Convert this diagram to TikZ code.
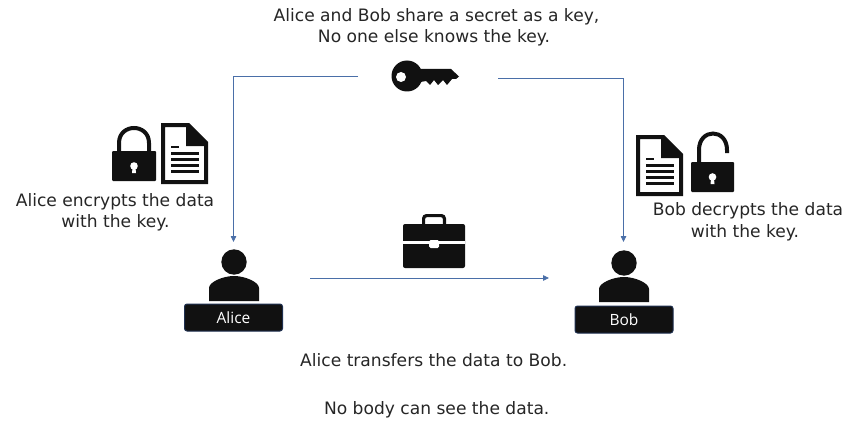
\documentclass[tikz,border=0pt]{standalone}
\usepackage{fontspec}
\setmainfont{DejaVu Sans}
\newfontfamily\labelfont{Open Sans}
\usetikzlibrary{arrows.meta}
\definecolor{ink}{HTML}{111111}
\definecolor{txt}{HTML}{262626}
\definecolor{wire}{HTML}{4A6FA8}
\definecolor{edge}{HTML}{1F3050}
\tikzset{
  x=1pt,y=-1pt,
  caption/.style={text=txt,font=\fontsize{17.1}{20}\selectfont,inner sep=0pt,anchor=center,text height=12.5pt,text depth=3.5pt},
  namebox/.style={fill=ink,draw=edge,line width=1pt,rounded corners=2.5pt,text=white,font=\labelfont\fontsize{15.5}{17}\selectfont,minimum width=98pt,minimum height=27pt,inner sep=0pt},
  wireline/.style={draw=wire,line width=0.8pt,-{Triangle[length=6pt,width=5.5pt]}},
  doc/.pic={
    \fill[ink,even odd rule] (161,123)--(189,123)--(208,142)--(208,184)--(161,184)--cycle
      (165,127)--(165,180)--(204,180)--(204,146)--(186,146)--(186,127)--cycle;
    \fill[ink] (190,128)--(203,141)--(190,141)--cycle;
    \fill[ink] (171,145.7) rectangle (179,148.3);
    \foreach \yy in {152,158,164,170}{\fill[ink] (171,\yy) rectangle (199,\yy+2.7);}
  },
  person/.pic={
    \fill[ink] (0,0) circle[radius=12.7];
    \fill[ink] (-25,39)--(-25,26) .. controls (-25,20) and (-11,14) .. (0,14) .. controls (11,14) and (25,20) .. (25,26)--(25,39)--cycle;
  },
}
\begin{document}
\begin{tikzpicture}
\useasboundingbox (0,0) rectangle (853,425);
\fill[white] (0,0) rectangle (853,425);

% captions
\node[caption] (t1) at (436.5,17) {Alice and Bob share a secret as a key,};
\node[caption] (t2) at (434,38) {No one else knows the key.};
\node[caption] (t3) at (115,202) {Alice encrypts the data};
\node[caption] (t4) at (115.5,223) {with the key.};
\node[caption] (t5) at (748,211) {Bob decrypts the data};
\node[caption] (t6) at (745,233) {with the key.};
\node[caption] (t7) at (433.7,362) {Alice transfers the data to Bob.};
\node[caption] (t8) at (436.7,410) {No body can see the data.};

% key
\fill[ink] (407,76) circle[radius=15.5];
\fill[ink] (415,69)--(451,69)--(459,76.5)--(456,79)--(452,79)--(447,85)--(443,80)--(438,85)--(434,80)--(430,85)--(426,81)--(415,83)--cycle;
\fill[white] (401,77) circle[radius=5];

% left lock
\draw[ink,line width=4pt] (119,153)--(119,143) .. controls (119,123) and (149,123) .. (149,143)--(149,153);
\fill[ink,rounded corners=1pt] (112,151) rectangle (156,181);
\fill[white] (134,166) circle[radius=3.8];
\fill[white] (132.6,167)--(135.4,167)--(136,173)--(132,173)--cycle;
\pic at (0,0) {doc};

% right doc and open lock
\pic at (475,12) {doc};
\draw[ink,line width=4pt] (699,164)--(699,150) .. controls (699,128) and (727,128) .. (727,150)--(727,153);
\fill[ink,rounded corners=1pt] (691,162) rectangle (734,192);
\fill[white] (712.5,177) circle[radius=3.8];
\fill[white] (711.1,178)--(713.9,178)--(714.5,184)--(710.5,184)--cycle;

% briefcase
\draw[ink,line width=3.2pt,rounded corners=3pt] (423.6,226)--(423.6,215.6)--(444.4,215.6)--(444.4,226);
\fill[ink,rounded corners=2pt] (403,224) rectangle (465,268);
\fill[white] (403,241) rectangle (465,244);
\fill[white,rounded corners=1.5pt] (429,240) rectangle (439,248);

% people
\pic at (234,262) {person};
\pic at (624,263) {person};
\node[namebox] (alice) at (233.5,317.5) {Alice};
\node[namebox] (bob) at (624,319.5) {Bob};

% connector ends
\coordinate (keyL) at (358,76);
\coordinate (cornerL) at (233.5,76);
\coordinate (aliceIn) at (233.5,242);
\coordinate (keyR) at (498,78);
\coordinate (cornerR) at (623.5,78);
\coordinate (bobIn) at (623.5,242);
\coordinate (sendOut) at (310,278);
\coordinate (sendIn) at (549,278);

\draw[wireline] (keyL)--(cornerL)--(aliceIn);
\draw[wireline] (keyR)--(cornerR)--(bobIn);
\draw[wireline] (sendOut)--(sendIn);
\end{tikzpicture}
\end{document}
